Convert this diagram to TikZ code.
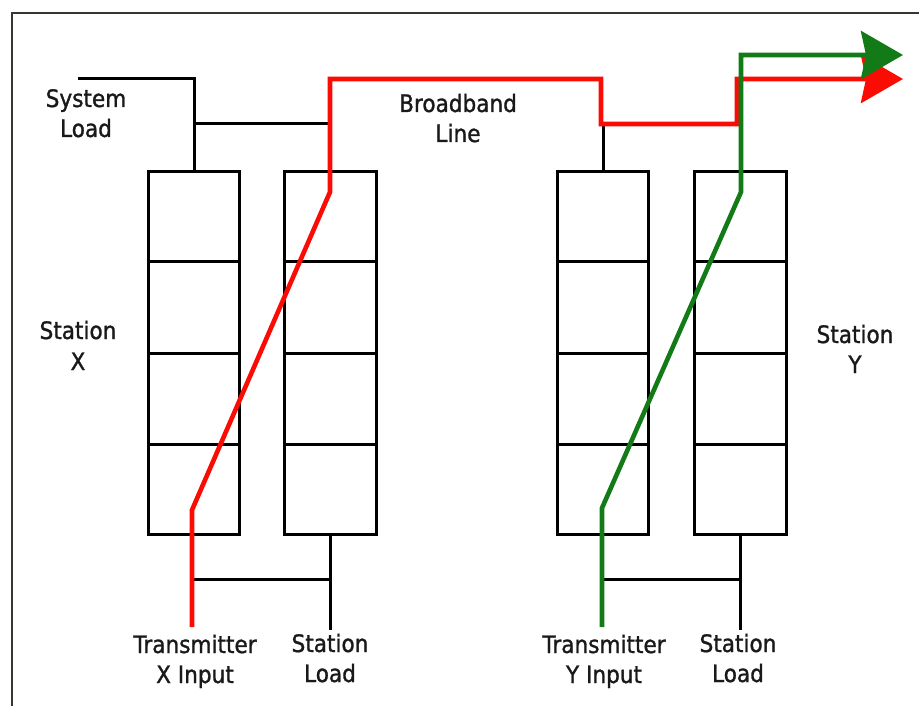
\documentclass[tikz,border=0pt]{standalone}
\usepackage{fontspec}
\newfontfamily\labfont[FakeStretch=0.9,FakeBold=1.2]{DejaVu Sans}
\usetikzlibrary{arrows.meta,calc}
\definecolor{redline}{RGB}{250,12,5}
\definecolor{greenline}{RGB}{18,122,22}
\definecolor{framegray}{RGB}{55,55,50}
\begin{document}
\begin{tikzpicture}[x=1pt,y=-1pt,
  wire/.style={line width=3pt, black, line join=miter},
  cellbox/.style={draw=black, line width=3pt, minimum width=91pt, minimum height=363pt, inner sep=0pt, anchor=north west},
  lab/.style={font=\labfont\fontsize{24}{30}\selectfont, anchor=base, inner sep=0pt, text=black!90},
  sig/.style={line width=4.6pt, line join=miter},
  bigtip/.style={-{Stealth[length=42pt,width=48pt,inset=5pt]}}]
\useasboundingbox (0,0) rectangle (919,706);
% frame
\draw[framegray, line width=2.5pt] (919,13) -- (12,13) -- (12,706);
% boxes
\node[cellbox] (A) at (147,170) {};
\node[cellbox, minimum width=92pt] (B) at (283,170) {};
\node[cellbox] (C) at (556,170) {};
\node[cellbox, minimum width=92pt] (D) at (693,170) {};
\foreach \b in {A,B,C,D}{
  \foreach \k in {1,2,3}{
    \draw[wire] ($(\b.north west)!\k/4!(\b.south west)$) -- ($(\b.north east)!\k/4!(\b.south east)$);
  }
}
% coordinates
\coordinate (sysend) at (78,79);
\coordinate (jx) at (192.5,124);
\coordinate (botL) at (192.5,579);
\coordinate (botR) at (602,579);
\coordinate (txX) at (192,627);
\coordinate (txY) at (602,627);
% black wiring
\draw[wire] (sysend) -| (A.north);
\draw[wire] (jx) -- (B.north |- jx);
\draw[wire] (C.north) -- ++(0,-46);
\draw[wire] (B.south) -- ++(0,94);
\draw[wire] (botL) -- (B.south |- botL);
\draw[wire] (D.south) -- ++(0,94);
\draw[wire] (botR) -- (D.south |- botR);
% red path (station X)
\draw[sig, redline, bigtip] (txX) -- (192,510) -- (330,192) -- (330,79) -- (601,79) -- (601,124) -- (737,124) -- (737,79) -- (903,79);
% green path (station Y)
\draw[sig, greenline, bigtip] (txY) -- (602,508) -- (741,192) -- (741,55) -- (903,55);
% labels
\node[lab] (sys1) at (86,107) {System};
\node[lab] (sys2) at (86,137) {Load};
\node[lab] (bb1) at (458,112) {Broadband};
\node[lab] (bb2) at (458,142) {Line};
\node[lab] (sx1) at (78,339) {Station};
\node[lab] (sx2) at (78,370) {X};
\node[lab] (sy1) at (855,343) {Station};
\node[lab] (sy2) at (855,373) {Y};
\node[lab] (tx1) at (195,653) {Transmitter};
\node[lab] (tx2) at (195,683) {X Input};
\node[lab] (sl1) at (330,652) {Station};
\node[lab] (sl2) at (330,682) {Load};
\node[lab] (ty1) at (604,653) {Transmitter};
\node[lab] (ty2) at (604,683) {Y Input};
\node[lab] (sl3) at (738,652) {Station};
\node[lab] (sl4) at (738,682) {Load};
\end{tikzpicture}
\end{document}
